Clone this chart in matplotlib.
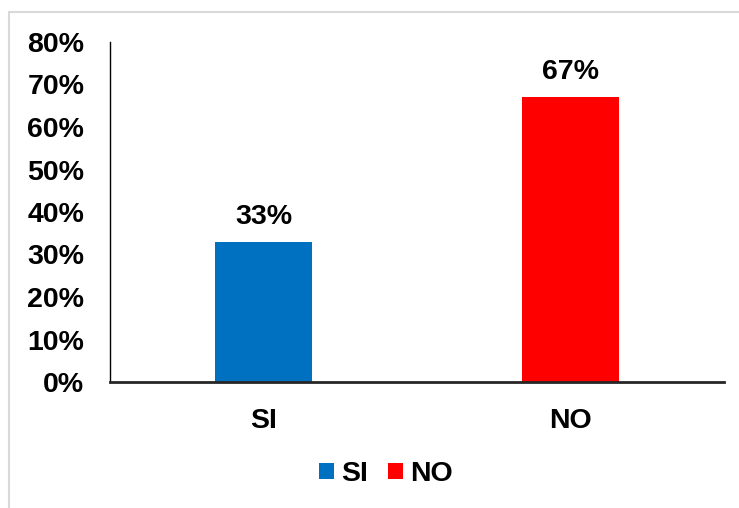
import matplotlib
matplotlib.use("Agg")
import matplotlib.pyplot as plt
from matplotlib.patches import Rectangle, Patch
from matplotlib.ticker import FuncFormatter

categories = ["SI", "NO"]
values = [33, 67]
colors = ["#0070C0", "#FF0000"]
yticks = [0, 10, 20, 30, 40, 50, 60, 70, 80]

plt.rcParams['font.family'] = ['Liberation Sans', 'DejaVu Sans']
plt.rcParams['font.weight'] = 'bold'

W, H = 739, 508
FS = 20.5
fig = plt.figure(figsize=(W / 100, H / 100), dpi=100)
fig.patch.set_facecolor("white")

# outer light-gray frame
fig.patches.append(Rectangle((9 / W, -0.1), 1.2, (H - 12) / H + 0.1,
                             transform=fig.transFigure, fill=False,
                             edgecolor="#d9d9d9", linewidth=1.5))

ax = fig.add_axes([110 / W, 1 - 382 / H, (724 - 110) / W, (382 - 42) / H])
x = list(range(len(categories)))
bars = ax.bar(x, values, width=0.316, color=colors)
ax.set_xlim(-0.5, 1.5)
ax.set_ylim(0, 80)
ax.set_yticks(yticks)
ax.yaxis.set_major_formatter(FuncFormatter(lambda v, p: f"{int(v)}%"))
ax.set_xticks(x)
ax.set_xticklabels(categories)
ax.tick_params(axis='both', length=0, labelsize=FS)
ax.tick_params(axis='y', pad=18.5)
ax.tick_params(axis='x', pad=18.5)
for lab in ax.get_xticklabels() + ax.get_yticklabels():
    lab.set_fontweight('bold')

for s in ["top", "right"]:
    ax.spines[s].set_visible(False)
ax.spines["left"].set_linewidth(1.0)
ax.spines["left"].set_color("black")
ax.spines["bottom"].set_linewidth(2.0)
ax.spines["bottom"].set_color("#262626")

for b, v in zip(bars, values):
    ax.annotate(f"{v}%", (b.get_x() + b.get_width() / 2, v),
                xytext=(0, 13), textcoords="offset points",
                ha="center", va="baseline", fontsize=FS, fontweight="bold")

handles = [Patch(facecolor=c, edgecolor='none', label=l) for c, l in zip(colors, categories)]
fig.legend(handles=handles, loc="center", ncol=2,
           bbox_to_anchor=(385.5 / W, 1 - 474 / H), frameon=False,
           prop={'size': FS, 'weight': 'bold'},
           handlelength=0.53, handleheight=0.53, handletextpad=0.25,
           columnspacing=0.7, borderpad=0)

fig.savefig("out.png", dpi=100, facecolor="white")
